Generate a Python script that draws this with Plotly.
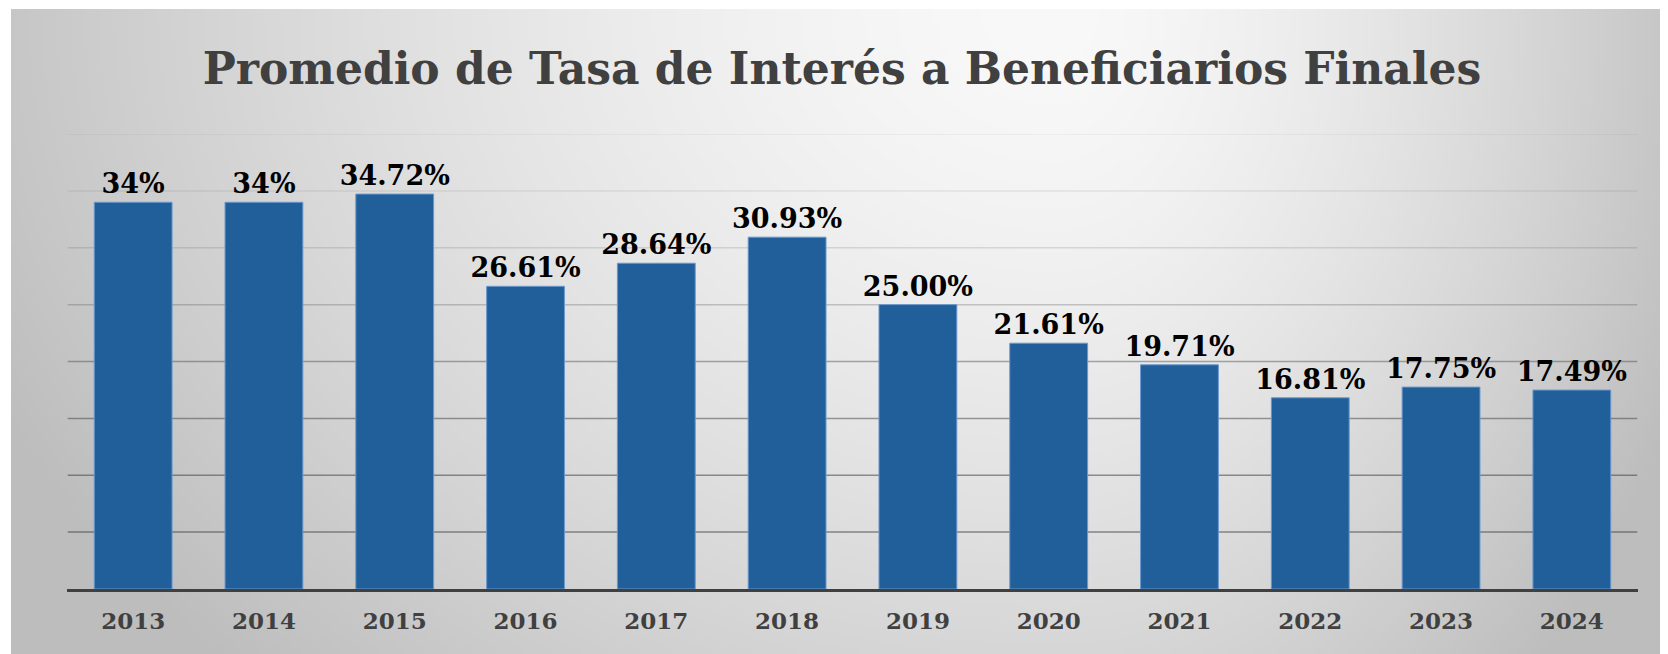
import base64
import struct
import zlib

import numpy as np
import plotly.graph_objects as go

# ---------------- data ----------------
years = ["2013", "2014", "2015", "2016", "2017", "2018",
         "2019", "2020", "2021", "2022", "2023", "2024"]
rates = [34.0, 34.0, 34.72, 26.61, 28.64, 30.93,
         25.00, 21.61, 19.71, 16.81, 17.75, 17.49]
rate_labels = ["34%", "34%", "34.72%", "26.61%", "28.64%", "30.93%",
               "25.00%", "21.61%", "19.71%", "16.81%", "17.75%", "17.49%"]
title_text = "Promedio de Tasa de Interés a Beneficiarios Finales"
grid_levels = [5, 10, 15, 20, 25, 30, 35, 40]
grid_alpha = [0.60, 0.57, 0.52, 0.44, 0.27, 0.16, 0.10, 0.07]

# page body has an 8px margin, so the figure is drawn 8px in from the corner
OFF = 8
W, H = 1668 - OFF, 654 - OFF
FONT = "DejaVu Serif"


# ---------------- background gradient (PNG data URI) ----------------
def gradient_png(w, h):
    xs = np.linspace(0, 1, w)
    ys = np.linspace(0, 1, h)
    X, Y = np.meshgrid(xs, ys)
    cx = 0.63
    u = np.where(X < cx, (cx - X) / cx, (X - cx) / (1 - cx))
    r = np.sqrt(u ** 2 + (0.78 * Y) ** 2)
    r = np.minimum(r, 1.12)
    b = 249 - 50 * r ** 1.5
    img = np.clip(b, 0, 255).astype(np.uint8)
    raw = b"".join(b"\x00" + img[i].tobytes() for i in range(h))

    def chunk(tag, data):
        c = struct.pack(">I", len(data)) + tag + data
        return c + struct.pack(">I", zlib.crc32(tag + data) & 0xFFFFFFFF)

    png = b"\x89PNG\r\n\x1a\n"
    png += chunk(b"IHDR", struct.pack(">IIBBBBB", w, h, 8, 0, 0, 0, 0))
    png += chunk(b"IDAT", zlib.compress(raw, 9))
    png += chunk(b"IEND", b"")
    return "data:image/png;base64," + base64.b64encode(png).decode()


bg_src = gradient_png(414, 161)

fig = go.Figure()
fig.add_trace(go.Bar(
    x=years,
    y=rates,
    text=rate_labels,
    texttemplate="%{text}",
    textposition="outside",
    constraintext="none",
    textfont=dict(family=FONT, size=27, color="#000000", weight="bold"),
    marker=dict(color="#215f9a", line=dict(color="#6b98cc", width=1)),
    cliponaxis=False,
    hoverinfo="skip",
))

shapes = []
for lvl, a in zip(grid_levels, grid_alpha):
    shapes.append(dict(
        type="line", xref="x", yref="y",
        x0=-0.5, x1=11.5, y0=lvl, y1=lvl,
        line=dict(color=f"rgba(70,70,70,{a})", width=1.5),
        layer="below",
    ))

fig.update_layout(
    width=W, height=H,
    margin=dict(l=0, r=0, t=0, b=0),
    paper_bgcolor="#ffffff",
    plot_bgcolor="rgba(0,0,0,0)",
    showlegend=False,
    bargap=0.405,
    title=dict(
        text=title_text,
        x=0.5 + OFF / 2 / W, xanchor="center", xref="paper",
        y=1 - (69 - OFF) / H, yanchor="middle", yref="paper",
        font=dict(family=FONT, size=44, color="#404040", weight="bold"),
    ),
    xaxis=dict(
        domain=[(67 - OFF) / W, (1638 - OFF) / W],
        showgrid=False,
        showline=True, linecolor="#404040", linewidth=2.5,
        ticks="", ticklabelstandoff=10,
        tickfont=dict(family=FONT, size=23, color="#404040", weight="bold"),
        fixedrange=True,
    ),
    yaxis=dict(
        domain=[(654 - 589) / H, (654 - 134) / H],
        range=[0, 40],
        showgrid=False, zeroline=False,
        showticklabels=False, ticks="",
        fixedrange=True,
    ),
    images=[dict(
        source=bg_src, xref="paper", yref="paper",
        x=(11 - OFF) / W, y=1 - (9 - OFF) / H,
        sizex=(W - (11 - OFF)) / W, sizey=(H - (9 - OFF)) / H,
        xanchor="left", yanchor="top", sizing="stretch", layer="below",
    )],
    shapes=shapes,
)

fig.write_html("out.html")
